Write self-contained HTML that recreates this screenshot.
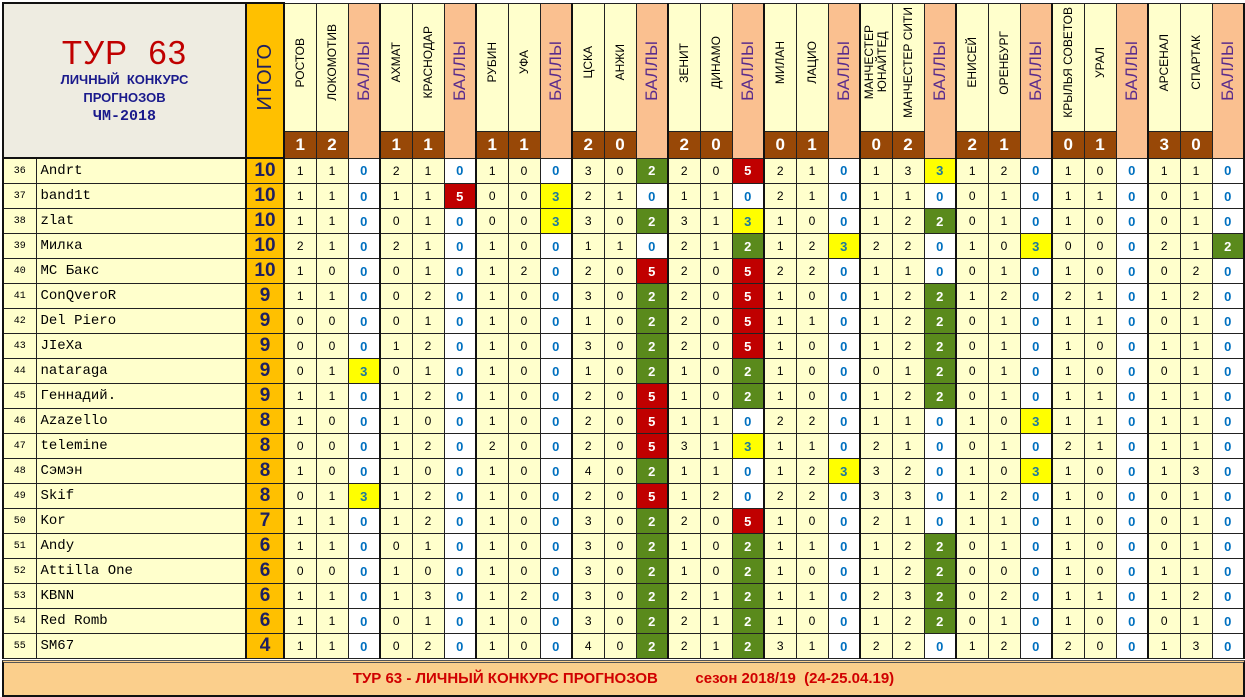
<!DOCTYPE html>
<html><head><meta charset="utf-8">
<style>
html,body{margin:0;padding:0;background:#fff;}
body{width:1245px;height:696px;overflow:hidden;position:relative;}
table{border-collapse:collapse;table-layout:fixed;position:absolute;left:2px;top:2px;}
td{padding:0;border:1px solid #222;text-align:center;vertical-align:middle;font-family:"Liberation Sans",sans-serif;font-size:12px;overflow:hidden;white-space:nowrap;}
.title{background:#EEECE1;border:2px solid #111;}
.itg{background:#FFC000;border-left:2px solid #111;border-right:2px solid #111;}
.itgh{background:#FFC000;border:2px solid #111;font-size:20px;color:#1F2060;}
.vt{writing-mode:vertical-rl;transform:rotate(180deg);display:inline-block;}
.th{background:#FFFFCC;vertical-align:middle;padding-bottom:6px;font-size:12px;}
.bh{background:#FAC090;border-right:2px solid #111;color:#5A2C8C;font-size:17px;vertical-align:middle;padding-bottom:14px;}
.sc{background:#984807;color:#fff;font-weight:bold;font-size:17px;height:26px;}
.n{background:#FFFFCC;font-family:"Liberation Mono",monospace;font-size:10px;border-left:2px solid #111;}
.nm{background:#FFFFCC;font-family:"Liberation Mono","DejaVu Sans Mono",monospace;font-size:14px;text-align:left;padding-left:4px;}
.iv{background:#FFC000;font-weight:bold;font-size:19px;color:#1F2060;border-left:2px solid #111;border-right:2px solid #111;}
.t{background:#FFFFCC;}
.b{background:#fff;color:#0070C0;font-weight:bold;font-size:13px;border-right:2px solid #111;}
.g{background:#5A8A1C;color:#fff;font-weight:bold;font-size:13px;border-right:2px solid #111;}
.r{background:#C00000;color:#fff;font-weight:bold;font-size:13px;border-right:2px solid #111;}
.y{background:#FFFF00;color:#1F7A9A;font-weight:bold;font-size:13px;border-right:2px solid #111;}
tr.d td{height:24px;}
.foot{position:absolute;left:2px;top:660px;width:1239px;height:32px;background:#FBCF8C;border:2px solid #111;border-top:3px double #555;text-align:center;line-height:32px;font-family:"Liberation Sans",sans-serif;font-weight:bold;font-size:15px;color:#D00000;}
</style></head><body>
<table>
<colgroup><col style="width:33px"><col style="width:210px"><col style="width:38px">
<col style="width:32px"><col style="width:32px"><col style="width:32px"><col style="width:32px"><col style="width:32px"><col style="width:32px"><col style="width:32px"><col style="width:32px"><col style="width:32px"><col style="width:32px"><col style="width:32px"><col style="width:32px"><col style="width:32px"><col style="width:32px"><col style="width:32px"><col style="width:32px"><col style="width:32px"><col style="width:32px"><col style="width:32px"><col style="width:32px"><col style="width:32px"><col style="width:32px"><col style="width:32px"><col style="width:32px"><col style="width:32px"><col style="width:32px"><col style="width:32px"><col style="width:32px"><col style="width:32px"><col style="width:32px"></colgroup>
<tr style="height:128px">
<td class="title" colspan="2" rowspan="2"><div style="color:#C00000;font-size:33px;letter-spacing:1px;line-height:36px;">ТУР&nbsp; 63</div><div style="color:#1A1A8C;font-weight:bold;font-size:13px;line-height:18px;">ЛИЧНЫЙ&nbsp; КОНКУРС<br>ПРОГНОЗОВ<br><span style="font-family:'Liberation Mono',monospace;font-size:15px;">ЧМ-2018</span></div></td>
<td class="itgh" rowspan="2"><span class="vt">ИТОГО</span></td>
<td class="th"><span class="vt">РОСТОВ</span></td><td class="th"><span class="vt">ЛОКОМОТИВ</span></td><td class="bh" rowspan="2"><span class="vt">БАЛЛЫ</span></td>
<td class="th"><span class="vt">АХМАТ</span></td><td class="th"><span class="vt">КРАСНОДАР</span></td><td class="bh" rowspan="2"><span class="vt">БАЛЛЫ</span></td>
<td class="th"><span class="vt">РУБИН</span></td><td class="th"><span class="vt">УФА</span></td><td class="bh" rowspan="2"><span class="vt">БАЛЛЫ</span></td>
<td class="th"><span class="vt">ЦСКА</span></td><td class="th"><span class="vt">АНЖИ</span></td><td class="bh" rowspan="2"><span class="vt">БАЛЛЫ</span></td>
<td class="th"><span class="vt">ЗЕНИТ</span></td><td class="th"><span class="vt">ДИНАМО</span></td><td class="bh" rowspan="2"><span class="vt">БАЛЛЫ</span></td>
<td class="th"><span class="vt">МИЛАН</span></td><td class="th"><span class="vt">ЛАЦИО</span></td><td class="bh" rowspan="2"><span class="vt">БАЛЛЫ</span></td>
<td class="th" style="line-height:13px"><span class="vt">МАНЧЕСТЕР<br>ЮНАЙТЕД</span></td><td class="th"><span class="vt">МАНЧЕСТЕР СИТИ</span></td><td class="bh" rowspan="2"><span class="vt">БАЛЛЫ</span></td>
<td class="th"><span class="vt">ЕНИСЕЙ</span></td><td class="th"><span class="vt">ОРЕНБУРГ</span></td><td class="bh" rowspan="2"><span class="vt">БАЛЛЫ</span></td>
<td class="th"><span class="vt">КРЫЛЬЯ СОВЕТОВ</span></td><td class="th"><span class="vt">УРАЛ</span></td><td class="bh" rowspan="2"><span class="vt">БАЛЛЫ</span></td>
<td class="th"><span class="vt">АРСЕНАЛ</span></td><td class="th"><span class="vt">СПАРТАК</span></td><td class="bh" rowspan="2"><span class="vt">БАЛЛЫ</span></td>
</tr>
<tr>
<td class="sc">1</td><td class="sc">2</td><td class="sc">1</td><td class="sc">1</td><td class="sc">1</td><td class="sc">1</td><td class="sc">2</td><td class="sc">0</td><td class="sc">2</td><td class="sc">0</td><td class="sc">0</td><td class="sc">1</td><td class="sc">0</td><td class="sc">2</td><td class="sc">2</td><td class="sc">1</td><td class="sc">0</td><td class="sc">1</td><td class="sc">3</td><td class="sc">0</td>
</tr>
<tr class="d"><td class="n">36</td><td class="nm">Andrt</td><td class="iv">10</td><td class="t">1</td><td class="t">1</td><td class="b">0</td><td class="t">2</td><td class="t">1</td><td class="b">0</td><td class="t">1</td><td class="t">0</td><td class="b">0</td><td class="t">3</td><td class="t">0</td><td class="g">2</td><td class="t">2</td><td class="t">0</td><td class="r">5</td><td class="t">2</td><td class="t">1</td><td class="b">0</td><td class="t">1</td><td class="t">3</td><td class="y">3</td><td class="t">1</td><td class="t">2</td><td class="b">0</td><td class="t">1</td><td class="t">0</td><td class="b">0</td><td class="t">1</td><td class="t">1</td><td class="b">0</td></tr>
<tr class="d"><td class="n">37</td><td class="nm">band1t</td><td class="iv">10</td><td class="t">1</td><td class="t">1</td><td class="b">0</td><td class="t">1</td><td class="t">1</td><td class="r">5</td><td class="t">0</td><td class="t">0</td><td class="y">3</td><td class="t">2</td><td class="t">1</td><td class="b">0</td><td class="t">1</td><td class="t">1</td><td class="b">0</td><td class="t">2</td><td class="t">1</td><td class="b">0</td><td class="t">1</td><td class="t">1</td><td class="b">0</td><td class="t">0</td><td class="t">1</td><td class="b">0</td><td class="t">1</td><td class="t">1</td><td class="b">0</td><td class="t">0</td><td class="t">1</td><td class="b">0</td></tr>
<tr class="d"><td class="n">38</td><td class="nm">zlat</td><td class="iv">10</td><td class="t">1</td><td class="t">1</td><td class="b">0</td><td class="t">0</td><td class="t">1</td><td class="b">0</td><td class="t">0</td><td class="t">0</td><td class="y">3</td><td class="t">3</td><td class="t">0</td><td class="g">2</td><td class="t">3</td><td class="t">1</td><td class="y">3</td><td class="t">1</td><td class="t">0</td><td class="b">0</td><td class="t">1</td><td class="t">2</td><td class="g">2</td><td class="t">0</td><td class="t">1</td><td class="b">0</td><td class="t">1</td><td class="t">0</td><td class="b">0</td><td class="t">0</td><td class="t">1</td><td class="b">0</td></tr>
<tr class="d"><td class="n">39</td><td class="nm">Милка</td><td class="iv">10</td><td class="t">2</td><td class="t">1</td><td class="b">0</td><td class="t">2</td><td class="t">1</td><td class="b">0</td><td class="t">1</td><td class="t">0</td><td class="b">0</td><td class="t">1</td><td class="t">1</td><td class="b">0</td><td class="t">2</td><td class="t">1</td><td class="g">2</td><td class="t">1</td><td class="t">2</td><td class="y">3</td><td class="t">2</td><td class="t">2</td><td class="b">0</td><td class="t">1</td><td class="t">0</td><td class="y">3</td><td class="t">0</td><td class="t">0</td><td class="b">0</td><td class="t">2</td><td class="t">1</td><td class="g">2</td></tr>
<tr class="d"><td class="n">40</td><td class="nm">МС Бакс</td><td class="iv">10</td><td class="t">1</td><td class="t">0</td><td class="b">0</td><td class="t">0</td><td class="t">1</td><td class="b">0</td><td class="t">1</td><td class="t">2</td><td class="b">0</td><td class="t">2</td><td class="t">0</td><td class="r">5</td><td class="t">2</td><td class="t">0</td><td class="r">5</td><td class="t">2</td><td class="t">2</td><td class="b">0</td><td class="t">1</td><td class="t">1</td><td class="b">0</td><td class="t">0</td><td class="t">1</td><td class="b">0</td><td class="t">1</td><td class="t">0</td><td class="b">0</td><td class="t">0</td><td class="t">2</td><td class="b">0</td></tr>
<tr class="d"><td class="n">41</td><td class="nm">ConQveroR</td><td class="iv">9</td><td class="t">1</td><td class="t">1</td><td class="b">0</td><td class="t">0</td><td class="t">2</td><td class="b">0</td><td class="t">1</td><td class="t">0</td><td class="b">0</td><td class="t">3</td><td class="t">0</td><td class="g">2</td><td class="t">2</td><td class="t">0</td><td class="r">5</td><td class="t">1</td><td class="t">0</td><td class="b">0</td><td class="t">1</td><td class="t">2</td><td class="g">2</td><td class="t">1</td><td class="t">2</td><td class="b">0</td><td class="t">2</td><td class="t">1</td><td class="b">0</td><td class="t">1</td><td class="t">2</td><td class="b">0</td></tr>
<tr class="d"><td class="n">42</td><td class="nm">Del Piero</td><td class="iv">9</td><td class="t">0</td><td class="t">0</td><td class="b">0</td><td class="t">0</td><td class="t">1</td><td class="b">0</td><td class="t">1</td><td class="t">0</td><td class="b">0</td><td class="t">1</td><td class="t">0</td><td class="g">2</td><td class="t">2</td><td class="t">0</td><td class="r">5</td><td class="t">1</td><td class="t">1</td><td class="b">0</td><td class="t">1</td><td class="t">2</td><td class="g">2</td><td class="t">0</td><td class="t">1</td><td class="b">0</td><td class="t">1</td><td class="t">1</td><td class="b">0</td><td class="t">0</td><td class="t">1</td><td class="b">0</td></tr>
<tr class="d"><td class="n">43</td><td class="nm">JIeXa</td><td class="iv">9</td><td class="t">0</td><td class="t">0</td><td class="b">0</td><td class="t">1</td><td class="t">2</td><td class="b">0</td><td class="t">1</td><td class="t">0</td><td class="b">0</td><td class="t">3</td><td class="t">0</td><td class="g">2</td><td class="t">2</td><td class="t">0</td><td class="r">5</td><td class="t">1</td><td class="t">0</td><td class="b">0</td><td class="t">1</td><td class="t">2</td><td class="g">2</td><td class="t">0</td><td class="t">1</td><td class="b">0</td><td class="t">1</td><td class="t">0</td><td class="b">0</td><td class="t">1</td><td class="t">1</td><td class="b">0</td></tr>
<tr class="d"><td class="n">44</td><td class="nm">nataraga</td><td class="iv">9</td><td class="t">0</td><td class="t">1</td><td class="y">3</td><td class="t">0</td><td class="t">1</td><td class="b">0</td><td class="t">1</td><td class="t">0</td><td class="b">0</td><td class="t">1</td><td class="t">0</td><td class="g">2</td><td class="t">1</td><td class="t">0</td><td class="g">2</td><td class="t">1</td><td class="t">0</td><td class="b">0</td><td class="t">0</td><td class="t">1</td><td class="g">2</td><td class="t">0</td><td class="t">1</td><td class="b">0</td><td class="t">1</td><td class="t">0</td><td class="b">0</td><td class="t">0</td><td class="t">1</td><td class="b">0</td></tr>
<tr class="d"><td class="n">45</td><td class="nm">Геннадий.</td><td class="iv">9</td><td class="t">1</td><td class="t">1</td><td class="b">0</td><td class="t">1</td><td class="t">2</td><td class="b">0</td><td class="t">1</td><td class="t">0</td><td class="b">0</td><td class="t">2</td><td class="t">0</td><td class="r">5</td><td class="t">1</td><td class="t">0</td><td class="g">2</td><td class="t">1</td><td class="t">0</td><td class="b">0</td><td class="t">1</td><td class="t">2</td><td class="g">2</td><td class="t">0</td><td class="t">1</td><td class="b">0</td><td class="t">1</td><td class="t">1</td><td class="b">0</td><td class="t">1</td><td class="t">1</td><td class="b">0</td></tr>
<tr class="d"><td class="n">46</td><td class="nm">Azazello</td><td class="iv">8</td><td class="t">1</td><td class="t">0</td><td class="b">0</td><td class="t">1</td><td class="t">0</td><td class="b">0</td><td class="t">1</td><td class="t">0</td><td class="b">0</td><td class="t">2</td><td class="t">0</td><td class="r">5</td><td class="t">1</td><td class="t">1</td><td class="b">0</td><td class="t">2</td><td class="t">2</td><td class="b">0</td><td class="t">1</td><td class="t">1</td><td class="b">0</td><td class="t">1</td><td class="t">0</td><td class="y">3</td><td class="t">1</td><td class="t">1</td><td class="b">0</td><td class="t">1</td><td class="t">1</td><td class="b">0</td></tr>
<tr class="d"><td class="n">47</td><td class="nm">telemine</td><td class="iv">8</td><td class="t">0</td><td class="t">0</td><td class="b">0</td><td class="t">1</td><td class="t">2</td><td class="b">0</td><td class="t">2</td><td class="t">0</td><td class="b">0</td><td class="t">2</td><td class="t">0</td><td class="r">5</td><td class="t">3</td><td class="t">1</td><td class="y">3</td><td class="t">1</td><td class="t">1</td><td class="b">0</td><td class="t">2</td><td class="t">1</td><td class="b">0</td><td class="t">0</td><td class="t">1</td><td class="b">0</td><td class="t">2</td><td class="t">1</td><td class="b">0</td><td class="t">1</td><td class="t">1</td><td class="b">0</td></tr>
<tr class="d"><td class="n">48</td><td class="nm">Сэмэн</td><td class="iv">8</td><td class="t">1</td><td class="t">0</td><td class="b">0</td><td class="t">1</td><td class="t">0</td><td class="b">0</td><td class="t">1</td><td class="t">0</td><td class="b">0</td><td class="t">4</td><td class="t">0</td><td class="g">2</td><td class="t">1</td><td class="t">1</td><td class="b">0</td><td class="t">1</td><td class="t">2</td><td class="y">3</td><td class="t">3</td><td class="t">2</td><td class="b">0</td><td class="t">1</td><td class="t">0</td><td class="y">3</td><td class="t">1</td><td class="t">0</td><td class="b">0</td><td class="t">1</td><td class="t">3</td><td class="b">0</td></tr>
<tr class="d"><td class="n">49</td><td class="nm">Skif</td><td class="iv">8</td><td class="t">0</td><td class="t">1</td><td class="y">3</td><td class="t">1</td><td class="t">2</td><td class="b">0</td><td class="t">1</td><td class="t">0</td><td class="b">0</td><td class="t">2</td><td class="t">0</td><td class="r">5</td><td class="t">1</td><td class="t">2</td><td class="b">0</td><td class="t">2</td><td class="t">2</td><td class="b">0</td><td class="t">3</td><td class="t">3</td><td class="b">0</td><td class="t">1</td><td class="t">2</td><td class="b">0</td><td class="t">1</td><td class="t">0</td><td class="b">0</td><td class="t">0</td><td class="t">1</td><td class="b">0</td></tr>
<tr class="d"><td class="n">50</td><td class="nm">Kor</td><td class="iv">7</td><td class="t">1</td><td class="t">1</td><td class="b">0</td><td class="t">1</td><td class="t">2</td><td class="b">0</td><td class="t">1</td><td class="t">0</td><td class="b">0</td><td class="t">3</td><td class="t">0</td><td class="g">2</td><td class="t">2</td><td class="t">0</td><td class="r">5</td><td class="t">1</td><td class="t">0</td><td class="b">0</td><td class="t">2</td><td class="t">1</td><td class="b">0</td><td class="t">1</td><td class="t">1</td><td class="b">0</td><td class="t">1</td><td class="t">0</td><td class="b">0</td><td class="t">0</td><td class="t">1</td><td class="b">0</td></tr>
<tr class="d"><td class="n">51</td><td class="nm">Andy</td><td class="iv">6</td><td class="t">1</td><td class="t">1</td><td class="b">0</td><td class="t">0</td><td class="t">1</td><td class="b">0</td><td class="t">1</td><td class="t">0</td><td class="b">0</td><td class="t">3</td><td class="t">0</td><td class="g">2</td><td class="t">1</td><td class="t">0</td><td class="g">2</td><td class="t">1</td><td class="t">1</td><td class="b">0</td><td class="t">1</td><td class="t">2</td><td class="g">2</td><td class="t">0</td><td class="t">1</td><td class="b">0</td><td class="t">1</td><td class="t">0</td><td class="b">0</td><td class="t">0</td><td class="t">1</td><td class="b">0</td></tr>
<tr class="d"><td class="n">52</td><td class="nm">Attilla One</td><td class="iv">6</td><td class="t">0</td><td class="t">0</td><td class="b">0</td><td class="t">1</td><td class="t">0</td><td class="b">0</td><td class="t">1</td><td class="t">0</td><td class="b">0</td><td class="t">3</td><td class="t">0</td><td class="g">2</td><td class="t">1</td><td class="t">0</td><td class="g">2</td><td class="t">1</td><td class="t">0</td><td class="b">0</td><td class="t">1</td><td class="t">2</td><td class="g">2</td><td class="t">0</td><td class="t">0</td><td class="b">0</td><td class="t">1</td><td class="t">0</td><td class="b">0</td><td class="t">1</td><td class="t">1</td><td class="b">0</td></tr>
<tr class="d"><td class="n">53</td><td class="nm">KBNN</td><td class="iv">6</td><td class="t">1</td><td class="t">1</td><td class="b">0</td><td class="t">1</td><td class="t">3</td><td class="b">0</td><td class="t">1</td><td class="t">2</td><td class="b">0</td><td class="t">3</td><td class="t">0</td><td class="g">2</td><td class="t">2</td><td class="t">1</td><td class="g">2</td><td class="t">1</td><td class="t">1</td><td class="b">0</td><td class="t">2</td><td class="t">3</td><td class="g">2</td><td class="t">0</td><td class="t">2</td><td class="b">0</td><td class="t">1</td><td class="t">1</td><td class="b">0</td><td class="t">1</td><td class="t">2</td><td class="b">0</td></tr>
<tr class="d"><td class="n">54</td><td class="nm">Red Romb</td><td class="iv">6</td><td class="t">1</td><td class="t">1</td><td class="b">0</td><td class="t">0</td><td class="t">1</td><td class="b">0</td><td class="t">1</td><td class="t">0</td><td class="b">0</td><td class="t">3</td><td class="t">0</td><td class="g">2</td><td class="t">2</td><td class="t">1</td><td class="g">2</td><td class="t">1</td><td class="t">0</td><td class="b">0</td><td class="t">1</td><td class="t">2</td><td class="g">2</td><td class="t">0</td><td class="t">1</td><td class="b">0</td><td class="t">1</td><td class="t">0</td><td class="b">0</td><td class="t">0</td><td class="t">1</td><td class="b">0</td></tr>
<tr class="d"><td class="n">55</td><td class="nm">SM67</td><td class="iv">4</td><td class="t">1</td><td class="t">1</td><td class="b">0</td><td class="t">0</td><td class="t">2</td><td class="b">0</td><td class="t">1</td><td class="t">0</td><td class="b">0</td><td class="t">4</td><td class="t">0</td><td class="g">2</td><td class="t">2</td><td class="t">1</td><td class="g">2</td><td class="t">3</td><td class="t">1</td><td class="b">0</td><td class="t">2</td><td class="t">2</td><td class="b">0</td><td class="t">1</td><td class="t">2</td><td class="b">0</td><td class="t">2</td><td class="t">0</td><td class="b">0</td><td class="t">1</td><td class="t">3</td><td class="b">0</td></tr>
</table>
<div class="foot">ТУР 63 - ЛИЧНЫЙ КОНКУРС ПРОГНОЗОВ&nbsp;&nbsp;&nbsp;&nbsp;&nbsp;&nbsp;&nbsp;&nbsp;&nbsp;сезон 2018/19&nbsp; (24-25.04.19)</div>
</body></html>
